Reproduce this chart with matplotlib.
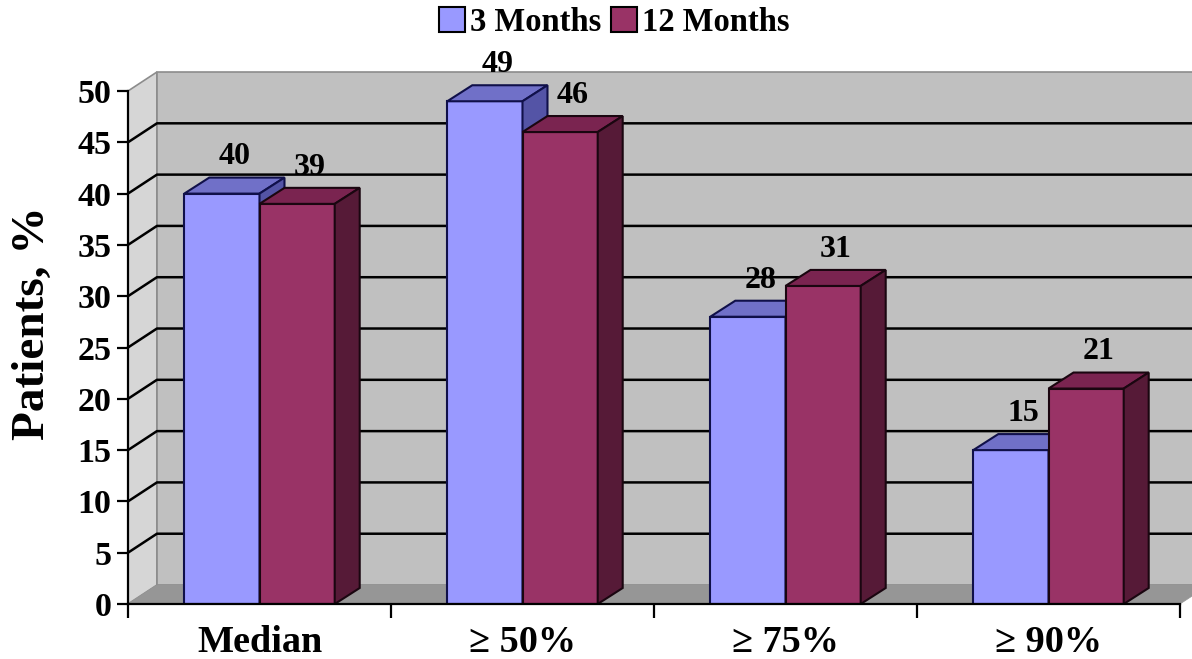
import matplotlib
matplotlib.use("Agg")
import matplotlib.pyplot as plt
from matplotlib.patches import Polygon, Patch

categories = ['Median', '≥ 50%', '≥ 75%', '≥ 90%']
months_3 = [40, 49, 28, 15]
months_12 = [39, 46, 31, 21]
series_names = ['3 Months', '12 Months']
y_ticks = list(range(0, 55, 5))

plt.rcParams['font.family'] = ['Liberation Serif', 'DejaVu Serif']
plt.rcParams['font.weight'] = 'bold'

fig = plt.figure(figsize=(11.92, 6.59), dpi=100)
ax = fig.add_axes([128 / 1192, 55 / 659, 1052 / 1192, 513 / 659])
n = len(categories)
ymax = 50
ax.set_xlim(0, n)
ax.set_ylim(0, ymax)

# fake 3d: depth of the box and of the bars, in data units
wall_dx, wall_dy = 0.11, 1.85
bar_dx, bar_dy = 0.095, 1.56
width = 0.286

# side wall, back wall, floor
ax.add_patch(Polygon([(0, 0), (0, ymax), (wall_dx, ymax + wall_dy), (wall_dx, wall_dy)],
                     fc='#D6D6D6', ec='#8C8C8C', lw=1.2, clip_on=False, zorder=0))
ax.add_patch(Polygon([(wall_dx, wall_dy), (wall_dx, ymax + wall_dy),
                      (n + wall_dx, ymax + wall_dy), (n + wall_dx, wall_dy)],
                     fc='#C0C0C0', ec='#8C8C8C', lw=1.2, clip_on=False, zorder=0))
for v in y_ticks[1:-1]:
    ax.plot([0, wall_dx, n + wall_dx], [v, v + wall_dy, v + wall_dy],
            color='black', lw=1.8, clip_on=False, zorder=1)
ax.add_patch(Polygon([(0, 0), (n, 0), (n + wall_dx, wall_dy), (wall_dx, wall_dy)],
                     fc='#969696', ec='#969696', lw=0.5, clip_on=False, zorder=2))

# bars: front face via ax.bar, top and side faces as polygons
styles = [
    dict(front='#9999FF', top='#7070C8', side='#5454A6', edge='#10104A'),
    dict(front='#993366', top='#7A2450', side='#561A37', edge='#1A0610'),
]
z = 3
for i in range(n):
    for s, vals in enumerate([months_3, months_12]):
        v = vals[i]
        st = styles[s]
        x0 = i + 0.5 - width + s * width
        x1 = x0 + width
        ax.bar(x0, v, width, align='edge', color=st['front'], edgecolor=st['edge'],
               lw=1.5, zorder=z)
        ax.add_patch(Polygon([(x0, v), (x1, v), (x1 + bar_dx, v + bar_dy), (x0 + bar_dx, v + bar_dy)],
                             fc=st['top'], ec=st['edge'], lw=1.5, clip_on=False, zorder=z))
        ax.add_patch(Polygon([(x1, 0), (x1, v), (x1 + bar_dx, v + bar_dy), (x1 + bar_dx, bar_dy)],
                             fc=st['side'], ec=st['edge'], lw=1.5, clip_on=False, zorder=z))
        ax.text(x0 + width / 2 + bar_dx / 2, v + bar_dy + 0.6, str(v),
                ha='center', va='bottom', fontsize=23, fontweight='bold', zorder=20)
        z += 1

for side in ['top', 'right']:
    ax.spines[side].set_visible(False)
for side in ['left', 'bottom']:
    ax.spines[side].set_linewidth(1.6)
    ax.spines[side].set_zorder(30)

ax.set_yticks(y_ticks)
ax.set_yticklabels([str(t) for t in y_ticks], fontsize=24.5, fontweight='bold')
ax.tick_params(axis='y', direction='out', length=8, width=1.6, pad=4)
ax.set_xticks(range(n + 1))
ax.set_xticklabels([])
ax.tick_params(axis='x', which='major', direction='out', length=10, width=1.6)
ax.set_xticks([i + 0.5 for i in range(n)], minor=True)
ax.set_xticklabels(categories, minor=True, fontsize=27.5, fontweight='bold')
ax.tick_params(axis='x', which='minor', length=0, pad=15)

fig.text(33 / 1192, 1 - 323 / 659, 'Patients, %', rotation=90, ha='center', va='center',
         fontsize=34, fontweight='bold')

handles = [Patch(facecolor=styles[0]['front'], edgecolor='black', lw=1.5),
           Patch(facecolor=styles[1]['front'], edgecolor='black', lw=1.5)]
fig.legend(handles, series_names, loc='center', bbox_to_anchor=(0.515, 0.966), ncol=2,
           frameon=False, fontsize=23.5, handlelength=0.8, handleheight=0.8,
           handletextpad=0.15, columnspacing=0.3, borderpad=0)

fig.savefig('out.png', dpi=100)
